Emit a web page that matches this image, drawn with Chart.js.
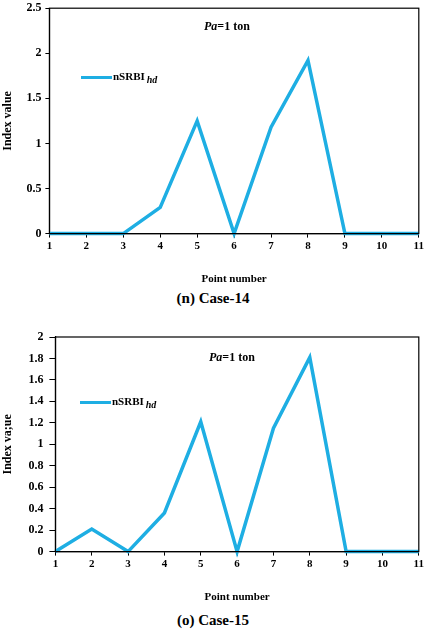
<!DOCTYPE html>
<html>
<head>
<meta charset="utf-8">
<script src="https://cdn.jsdelivr.net/npm/chart.js@4"></script>
<style>
  body { margin: 0; background: #fff; width: 426px; height: 630px; position: relative; overflow: hidden; font-family: "Liberation Serif", "Times New Roman", serif; }
  .panel { position: absolute; left: 0; width: 426px; }
  .note { position: absolute; font-weight: bold; font-size: 12px; color: #000; white-space: nowrap; }
  .legend { position: absolute; font-weight: bold; font-size: 11px; color: #000; white-space: nowrap; }
  .legend .swatch { display: inline-block; width: 31px; height: 3px; background: #1eaee3; vertical-align: middle; margin-right: 1px; }
  .legend sub { font-style: italic; font-size: 10px; margin-left: 2px; }
  .caption { position: absolute; left: 0; width: 426px; text-align: center; font-weight: bold; font-size: 15px; }
</style>
</head>
<body>

<div class="panel" style="top:-3px;height:293px"><canvas id="chart14"></canvas></div>
<div class="note" style="left:204px;top:19px"><i>Pa</i>=1 ton</div>
<div class="legend" style="left:81px;top:70px"><span class="swatch"></span>nSRBI<sub>hd</sub></div>
<div class="caption" style="top:290px">(n) Case-14</div>

<div class="panel" style="top:318px;height:290px"><canvas id="chart15"></canvas></div>
<div class="note" style="left:209px;top:350px"><i>Pa</i>=1 ton</div>
<div class="legend" style="left:80px;top:395px"><span class="swatch"></span>nSRBI<sub>hd</sub></div>
<div class="caption" style="top:612px">(o) Case-15</div>

<script>
// Point numbers along the x axis
const pointNumbers = ['1', '2', '3', '4', '5', '6', '7', '8', '9', '10', '11'];

// nSRBI_hd index values
const case14Values = [0, 0, 0, 0.29, 1.25, 0, 1.18, 1.92, 0, 0, 0];
const case15Values = [0, 0.21, 0, 0.36, 1.21, 0, 1.15, 1.81, 0, 0, 0];

// y axis ranges
const case14YMax = 2.5, case14YStep = 0.5;
const case15YMax = 2, case15YStep = 0.2;

const lineColor = '#1eaee3';
const serif = "'Liberation Serif', 'Times New Roman', serif";
const tickFont = { family: serif, size: 11, weight: 'bold' };
const yFont = { family: serif, size: 12, weight: 'bold' };

// draws the black frame round the plot area
const framePlugin = {
    id: 'frame',
    afterDraw(chart) {
        const a = chart.chartArea;
        const ctx = chart.ctx;
        ctx.save();
        ctx.strokeStyle = '#000';
        ctx.lineWidth = 1.2;
        ctx.strokeRect(a.left, a.top, a.right - a.left, a.bottom - a.top);
        ctx.restore();
    }
};

function makeChart(id, values, yMax, yStep, yTitle, pad, yTick) {
    const ctx = document.getElementById(id).getContext('2d');
    return new Chart(ctx, {
        type: 'line',
        data: {
            labels: pointNumbers,
            datasets: [{
                label: 'nSRBI hd',
                data: values,
                borderColor: lineColor,
                borderWidth: 3.5,
                pointRadius: 0,
                tension: 0,
                clip: 6
            }]
        },
        options: {
            responsive: true,
            maintainAspectRatio: false,
            animation: false,
            layout: { padding: pad },
            plugins: {
                legend: { display: false },
                tooltip: { enabled: false }
            },
            scales: {
                x: {
                    offset: false,
                    grid: { drawOnChartArea: false, color: '#000', tickLength: 4 },
                    border: { color: '#000', width: 1.2 },
                    ticks: { color: '#000', font: tickFont, padding: 2, maxRotation: 0 },
                    title: { display: true, text: 'Point number', color: '#000', font: tickFont, padding: { top: 18, bottom: 0 } }
                },
                y: {
                    min: 0,
                    max: yMax,
                    grid: { drawOnChartArea: false, color: '#000', tickLength: yTick.len },
                    border: { color: '#000', width: 1.2 },
                    ticks: {
                        stepSize: yStep, color: '#000', font: yFont, padding: yTick.pad,
                        callback: v => String(Number(v.toFixed(1)))
                    },
                    title: { display: true, text: yTitle, color: '#000', font: yFont, padding: { top: 0, bottom: 7 } }
                }
            }
        },
        plugins: [framePlugin]
    });
}

makeChart('chart14', case14Values, case14YMax, case14YStep, 'Index value',
    { left: 1, right: 7, top: 0, bottom: 4 }, { len: 4, pad: 4 });
makeChart('chart15', case15Values, case15YMax, case15YStep, 'Index va;ue',
    { left: 1, right: 7, top: 19, bottom: 4 }, { len: 6, pad: 6 });
</script>
</body>
</html>
